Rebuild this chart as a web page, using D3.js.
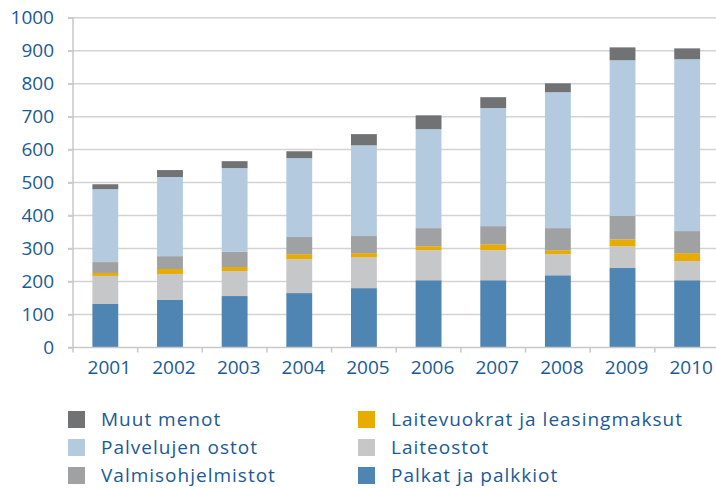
<!DOCTYPE html>
<html>
<head>
<meta charset="utf-8">
<script src="https://cdn.jsdelivr.net/npm/d3@7"></script>
<style>
  body { margin: 0; background: #fff; }
  text { font-family: "Open Sans", sans-serif; fill: #1a5a97; }
</style>
</head>
<body>
<svg></svg>
<script>
const WIDTH = 716;
const HEIGHT = 488;

const years = ["2001", "2002", "2003", "2004", "2005", "2006", "2007", "2008", "2009", "2010"];
const palkat = [132, 144, 156, 165, 180, 204, 204, 219, 241, 204];
const laiteostot = [85, 79, 76, 103, 94, 91, 91, 64, 66, 58];
const laitevuokrat = [9, 15, 12, 15, 12, 12, 18, 12, 21, 24];
const valmisohjelmistot = [33, 39, 46, 52, 52, 55, 55, 67, 71, 67];
const palvelut = [221, 240, 254, 239, 275, 300, 358, 412, 472, 521];
const muut = [15, 21, 21, 21, 34, 42, 33, 27, 39, 33];
const yTicks = [0, 100, 200, 300, 400, 500, 600, 700, 800, 900, 1000];

const seriesNames = ["Palkat ja palkkiot", "Laiteostot", "Laitevuokrat ja leasingmaksut",
    "Valmisohjelmistot", "Palvelujen ostot", "Muut menot"];
const seriesValues = [palkat, laiteostot, laitevuokrat, valmisohjelmistot, palvelut, muut];
const colors = ["#4e85b3", "#c6c7c8", "#e8ab00", "#a0a1a2", "#b4cbdf", "#717273"];

const PL = 73, PT = 17.7, PB = 347.5, PR = 719.5;

let svg = d3.select("svg")
    .attr("width", WIDTH)
    .attr("height", HEIGHT);

let x = d3.scaleBand()
    .domain(years)
    .range([PL, PR])
    .paddingInner(0.6)
    .paddingOuter(0.3);

let y = d3.scaleLinear()
    .domain([0, 1000])
    .range([PB, PT]);

// grid
svg.append("g")
    .selectAll("line")
    .data(yTicks.slice(1))
    .join("line")
    .attr("x1", PL - 5)
    .attr("x2", WIDTH)
    .attr("y1", d => y(d))
    .attr("y2", d => y(d))
    .style("stroke", "#d3d3d3")
    .style("stroke-width", 1.5);

// bars
let table = years.map((yr, i) => {
    let row = { year: yr };
    seriesNames.forEach((n, k) => row[n] = seriesValues[k][i]);
    return row;
});
let stacked = d3.stack().keys(seriesNames)(table);

svg.append("g")
    .selectAll("g")
    .data(stacked)
    .join("g")
    .style("fill", (d, i) => colors[i])
    .selectAll("rect")
    .data(d => d)
    .join("rect")
    .attr("x", d => x(d.data.year))
    .attr("width", x.bandwidth())
    .attr("y", d => y(d[1]))
    .attr("height", d => y(d[0]) - y(d[1]));

// y axis
let yAxis = svg.append("g")
    .attr("transform", `translate(${PL},0)`)
    .call(d3.axisLeft(y).tickValues(yTicks).tickFormat(d3.format("d")).tickSize(5).tickPadding(14));
yAxis.select(".domain").style("stroke", "#c8c8c8").style("stroke-width", 1.5)
    .attr("d", `M-5,${PB}H0V${PT - 0.5}`);
yAxis.selectAll(".tick line").style("stroke", "#c8c8c8").style("stroke-width", 1.5);
yAxis.selectAll("text").style("font-size", "19px").style("fill", "#1a5a97")
    .style("font-family", "'Open Sans', sans-serif");

// x axis
let xAxis = svg.append("g")
    .attr("transform", `translate(0,${PB})`)
    .call(d3.axisBottom(x).tickSize(0).tickPadding(13));
xAxis.select(".domain").style("stroke", "#c8c8c8").style("stroke-width", 1.5)
    .attr("d", `M${PL},0H${WIDTH}`);
xAxis.selectAll("text").style("font-size", "19px").style("fill", "#1a5a97")
    .style("font-family", "'Open Sans', sans-serif")
    .attr("dx", 4);
let step = x.step();
svg.append("g")
    .selectAll("line")
    .data(d3.range(years.length + 1))
    .join("line")
    .attr("x1", i => PL + i * step)
    .attr("x2", i => PL + i * step)
    .attr("y1", PB)
    .attr("y2", PB + 5)
    .style("stroke", "#c8c8c8")
    .style("stroke-width", 1.5);

// legend
const legendOrder = [5, 2, 4, 1, 3, 0];
let legend = svg.append("g")
    .selectAll("g")
    .data(legendOrder)
    .join("g")
    .attr("transform", (k, i) => `translate(${i % 2 ? 358 : 68},${411 + Math.floor(i / 2) * 28})`);
legend.append("rect")
    .attr("width", 17)
    .attr("height", 17)
    .style("fill", k => colors[k]);
legend.append("text")
    .attr("x", 33)
    .attr("y", 15)
    .style("font-size", "19px")
    .style("letter-spacing", "1px")
    .text(k => seriesNames[k]);
</script>
</body>
</html>
